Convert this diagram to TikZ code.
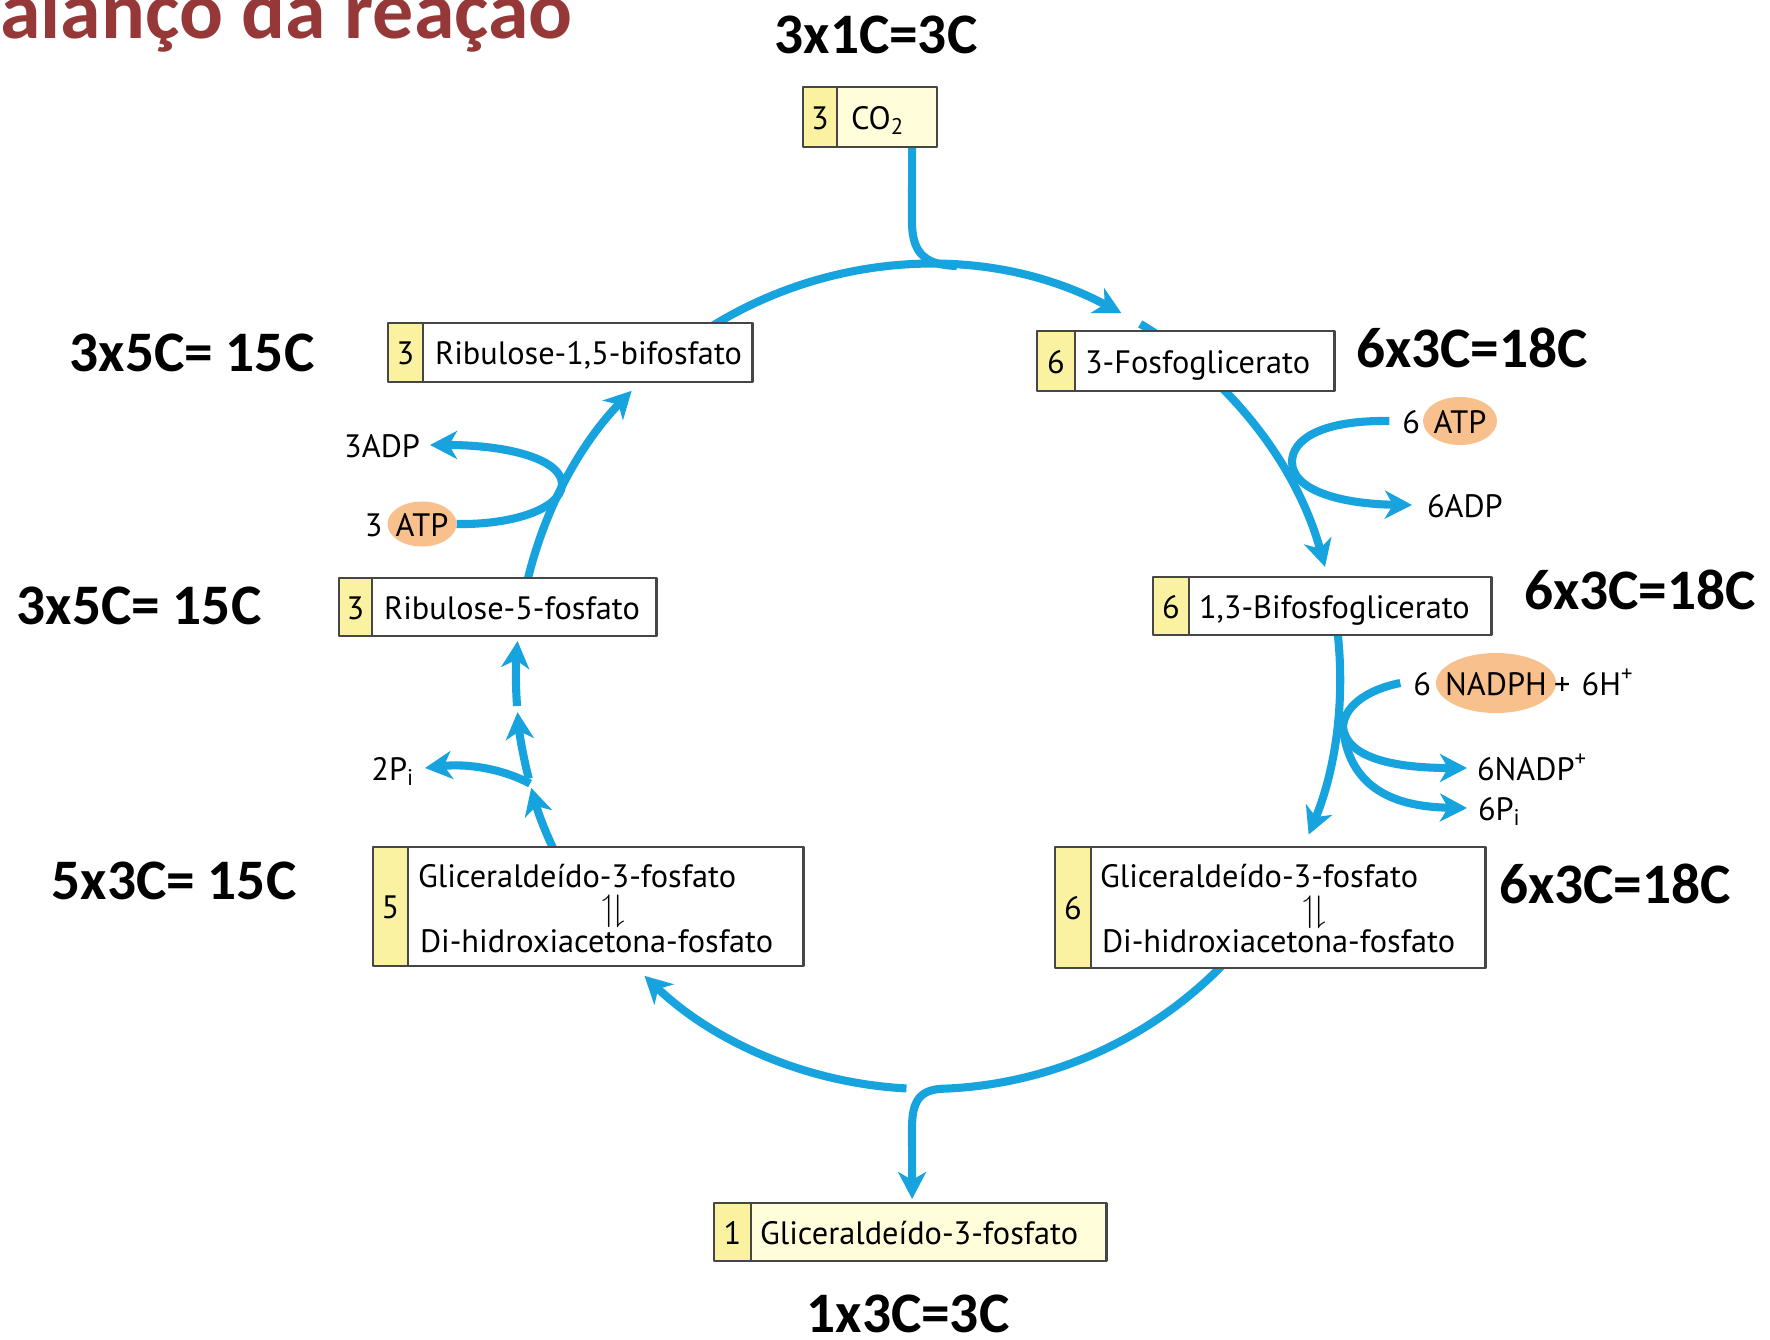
\documentclass[tikz,border=0pt]{standalone}
\usepackage{fontspec}
\usepackage{amssymb}
\usetikzlibrary{arrows.meta,positioning,calc,shapes.geometric,backgrounds}
\newfontfamily\diagfont{PT Sans}
\newfontfamily\calcfont{Carlito}
\definecolor{flowblue}{RGB}{22,163,222}
\definecolor{boxline}{RGB}{70,70,70}
\definecolor{cellyellow}{RGB}{250,242,160}
\definecolor{paleyellow}{RGB}{255,253,218}
\definecolor{atporange}{RGB}{247,192,140}
\definecolor{titlered}{RGB}{150,56,56}
\newcommand{\boxfont}{\diagfont\fontsize{9.2pt}{11pt}\selectfont}
\newcommand{\sumfont}{\calcfont\bfseries\fontsize{16.3pt}{19pt}\selectfont}

\begin{document}
\begin{tikzpicture}[x=0.01cm, y=-0.01cm, line cap=round, line join=round,
                    every node/.style={outer sep=0pt}]

  \tikzset{
    numcell/.style={draw=boxline, fill=cellyellow, line width=0.8pt, inner sep=0pt,
                    text height=0.7em, text depth=0pt, font=\boxfont},
    namebox/.style={draw=boxline, fill=white, line width=0.8pt, inner sep=0pt},
    chem/.style={inner sep=0pt, text height=0.7em, text depth=0pt, font=\boxfont},
    energy/.style={ellipse, fill=atporange, inner sep=0pt, text height=0.7em, text depth=0pt, font=\boxfont},
    harpoons/.style={inner sep=0pt, font=\fontsize{10.5pt}{10.5pt}\selectfont},
    tally/.style={inner sep=0pt, text depth=0pt, font=\sumfont},
    bare/.style={draw=flowblue, line width=2.3pt, line cap=butt},
    flow/.style={bare, -{Stealth[length=2.7mm, width=2.8mm, inset=0.8mm]}}
  }

  \path[use as bounding box] (0,0) rectangle (1770,1340);

  \node[anchor=base west, inner sep=0pt, text=titlered,
        font=\calcfont\bfseries\fontsize{23.3pt}{27pt}\selectfont] (title) at (0,39) {alanço da reação};

  % Boxes
  \node[numcell, minimum width=3.4mm, minimum height=6mm, anchor=north west] (co2n) at (803,87) {3};
  \node[namebox, fill=paleyellow, minimum width=10mm, minimum height=6mm, right=0pt of co2n] (co2) {};
  \node[chem, right=1.4mm of co2n] (co2t) {CO\textsubscript{2}};

  \node[numcell, minimum width=3.5mm, minimum height=5.9mm, anchor=north west] (rubpn) at (388,323) {3};
  \node[namebox, minimum width=32.9mm, minimum height=5.9mm, right=0pt of rubpn] (rubp) {};
  \node[chem, right=1.2mm of rubpn] (rubpt) {Ribulose-1,5-bifosfato};

  \node[numcell, minimum width=3.8mm, minimum height=6mm, anchor=north west] (pgan) at (1037,331) {6};
  \node[namebox, minimum width=25.9mm, minimum height=6mm, right=0pt of pgan] (pga) {};
  \node[chem, right=1mm of pgan] (pgat) {3-Fosfoglicerato};

  \node[numcell, minimum width=3.6mm, minimum height=5.8mm, anchor=north west] (bpgn) at (1153,577) {6};
  \node[namebox, minimum width=30.2mm, minimum height=5.8mm, right=0pt of bpgn] (bpg) {};
  \node[chem, right=1mm of bpgn] (bpgt) {1,3-Bifosfoglicerato};

  \node[numcell, minimum width=3.3mm, minimum height=5.8mm, anchor=north west] (ru5pn) at (339,578) {3};
  \node[namebox, minimum width=28.4mm, minimum height=5.8mm, right=0pt of ru5pn] (ru5p) {};
  \node[chem, right=1.2mm of ru5pn] (ru5pt) {Ribulose-5-fosfato};

  \node[numcell, minimum width=3.5mm, minimum height=11.9mm, anchor=north west] (gapLn) at (373,847) {5};
  \node[namebox, minimum width=39.5mm, minimum height=11.9mm, right=0pt of gapLn] (gapL) {};
  \node[chem, anchor=base west, text height=] (gapLa) at (418,887) {Gliceraldeído-3-fosfato};
  \node[chem, anchor=base west, text height=] (gapLb) at (420,952) {Di-hidroxiacetona-fosfato};
  \node[harpoons] (eqL) at (614,911) {$\upharpoonleft\!\downharpoonright$};

  \node[numcell, minimum width=3.6mm, minimum height=12.1mm, anchor=north west] (gapRn) at (1055,847) {6};
  \node[namebox, minimum width=39.4mm, minimum height=12.1mm, right=0pt of gapRn] (gapR) {};
  \node[chem, anchor=base west, text height=] (gapRa) at (1100,887) {Gliceraldeído-3-fosfato};
  \node[chem, anchor=base west, text height=] (gapRb) at (1102,952) {Di-hidroxiacetona-fosfato};
  \node[harpoons] (eqR) at (1315,912) {$\upharpoonleft\!\downharpoonright$};

  \node[numcell, minimum width=3.7mm, minimum height=5.8mm, anchor=north west] (gapBn) at (714,1203) {1};
  \node[namebox, fill=paleyellow, minimum width=35.5mm, minimum height=5.8mm, right=0pt of gapBn] (gapB) {};
  \node[chem, right=0.9mm of gapBn] (gapBt) {Gliceraldeído-3-fosfato};

  % Cofactors
  \node[energy, inner xsep=-0.3mm, minimum width=7.4mm, minimum height=4.8mm] (atpR) at (1460,421) {ATP};
  \node[chem, left=0.3mm of atpR] (atpRn) {6};
  \node[chem, anchor=west] (adpR) at (1427,505) {6ADP};

  \node[energy, inner xsep=-0.3mm, minimum width=6.9mm, minimum height=4.5mm] (atpL) at (422,524) {ATP};
  \node[chem, left=0.5mm of atpL] (atpLn) {3};
  \node[chem, anchor=east] (adpL) at (420,445) {3ADP};

  \node[energy, inner xsep=-2.2mm, minimum width=12mm, minimum height=6mm] (nadph) at (1496,683) {NADPH\hspace{1.6mm}};
  \node[chem, left=0.5mm of nadph] (nadphn) {6};
  \node[chem, anchor=west] (hplus) at (1554,683) {+\hspace{0.35em}6H\textsuperscript{+}};
  \node[chem, anchor=west] (nadp) at (1477,768) {6NADP\textsuperscript{+}};
  \node[chem, anchor=west] (piR) at (1478,808) {6P\textsubscript{i}};
  \node[chem, anchor=east] (piL) at (415,768) {2P\textsubscript{i}};

  % Carbon tallies
  \node[tally, anchor=base] (sumCO2) at (876,54) {3x1C=3C};
  \node[tally, anchor=base] (sumRuBP) at (192,372) {3x5C= 15C};
  \node[tally, anchor=base] (sumPGA) at (1472,368) {6x3C=18C};
  \node[tally, anchor=base] (sumRu5P) at (139,625) {3x5C= 15C};
  \node[tally, anchor=base] (sumBPG) at (1640,610) {6x3C=18C};
  \node[tally, anchor=base] (sumGAPL) at (174,899) {5x3C= 15C};
  \node[tally, anchor=base] (sumGAPR) at (1615,903) {6x3C=18C};
  \node[tally, anchor=base] (sumGAPB) at (908,1332) {1x3C=3C};

  % Cycle
  \begin{scope}[on background layer]
    \coordinate (cyc) at (928,677);
    \def\R{412}
    \foreach \a/\b in {-125/-62, -59/-15.5, -10/22.5, 93/133.5, 150/164.4,
                       165.7/175.1, 175.96/185, 190/224}
      \draw[flow] ($(cyc)+(\a:\R)$) arc[start angle=\a, end angle=\b, radius=\R];

    \draw[flow] ($(cyc)+(40:\R)$) arc[start angle=40, end angle=88, radius=\R]
      .. controls +(-24,1) and +(0,-25) .. (912,1128) -- ([xshift=-1.65mm,yshift=0.4mm]gapB.north);
    \draw[bare] ([xshift=2.5mm]co2.south) -- (912,222)
      .. controls (912,256) and (928,265) .. ($(cyc)+(-86:\R)$);

    % side branches
    \draw[flow] (atpL.east) .. controls (510,525) and (560,510) .. (562,485)
      .. controls (563,460) and (510,445) .. ([xshift=1mm]adpL.east);
    \draw[flow] ([xshift=-1.3mm]atpRn.west) .. controls (1320,420) and (1292,440) .. (1292,462)
      .. controls (1292,490) and (1340,504) .. ([xshift=-1.5mm]adpR.west);
    \coordinate (nadfork) at (1343,728);
    \draw[bare] ([xshift=-1.3mm]nadphn.west) .. controls (1365,690) and (1343,708) .. (nadfork);
    \draw[flow] (nadfork) .. controls (1348,760) and (1400,768) .. ([xshift=-1mm]nadp.west);
    \draw[flow] (nadfork) .. controls (1350,795) and (1405,807) .. ([xshift=-1.1mm]piR.west);
    \draw[flow] ($(cyc)+(165:\R)$) .. controls (505,770) and (470,763) .. ([xshift=1mm]piL.east);
  \end{scope}
\end{tikzpicture}
\end{document}
